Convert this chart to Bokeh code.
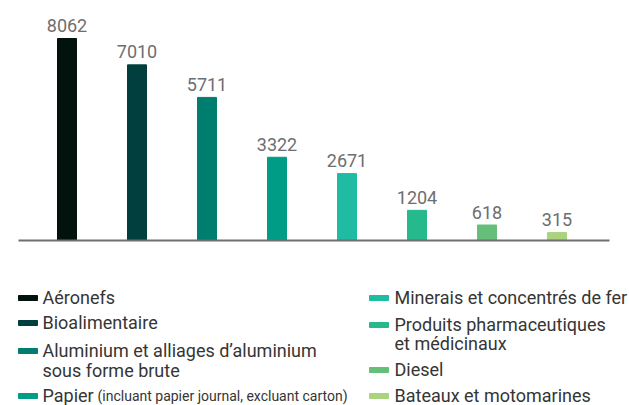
from bokeh.plotting import figure
from bokeh.models import Range1d, ColumnDataSource
from bokeh.core.properties import value
from bokeh.embed import file_html
from bokeh.resources import INLINE

# ---- data ----
categories = [
    "Aéronefs",
    "Bioalimentaire",
    "Aluminium et alliages d’aluminium sous forme brute",
    "Papier (incluant papier journal, excluant carton)",
    "Minerais et concentrés de fer",
    "Produits pharmaceutiques et médicinaux",
    "Diesel",
    "Bateaux et motomarines",
]
values = [8062, 7010, 5711, 3322, 2671, 1204, 618, 315]
value_labels = [str(v) for v in values]
colors = ["#02120c", "#013f3e", "#007d6e", "#009c85",
          "#1fbca3", "#26b98b", "#66bf78", "#aad37f"]

NUM_FONT = value("Roboto")
LEG_FONT = value("Roboto")
LABEL_GREY = "#6d6e70"
TEXT_DARK = "#353535"

# ---- geometry (page pixels; the page template has no body margin) ----
W, H = 629, 405
page_top, page_left = 0, 0
axis_y_page = 240          # baseline of bars
first_center_page = 66.5   # centre of first bar
step_px = 70
px_per_unit = 202 / max(values)

base_from_bottom = (page_top + H) - axis_y_page
base_from_top = axis_y_page - page_top
x_start = -(first_center_page - page_left) / step_px

p = figure(width=W, height=H, output_backend="svg", toolbar_location=None,
           min_border=0,
           x_range=Range1d(x_start, x_start + W / step_px),
           y_range=Range1d(-base_from_bottom / px_per_unit,
                           base_from_top / px_per_unit))
p.extra_x_ranges = {"px": Range1d(page_left, page_left + W)}
p.extra_y_ranges = {"px": Range1d(page_top + H, page_top)}
p.outline_line_color = None
p.xaxis.visible = False
p.yaxis.visible = False
p.grid.visible = False
p.background_fill_color = None
p.border_fill_color = None

x = list(range(len(values)))
src = ColumnDataSource(dict(x=x, top=values, color=colors, label=value_labels))
p.vbar(x="x", top="top", bottom=0, width=19 / step_px, color="color", source=src)
p.text(x="x", y="top", text="label", source=src, y_offset=-13,
       text_align="center", text_baseline="alphabetic",
       text_font=NUM_FONT, text_font_size="18px", text_color=LABEL_GREY)

# baseline axis line
p.segment(x0=[18], x1=[609], y0=[0], y1=[0], line_color="#6d6e70",
          line_width=2, x_range_name="px")

# ---- legend (page-pixel coordinates) ----
left_sw, left_tx = 27.5, 42
right_sw, right_tx = 378.5, 394
layout = [
    (left_sw, left_tx, [302]),
    (left_sw, left_tx, [327]),
    (left_sw, left_tx, [355, 375]),
    (left_sw, left_tx, [400]),
    (right_sw, right_tx, [302]),
    (right_sw, right_tx, [329, 348]),
    (right_sw, right_tx, [374]),
    (right_sw, right_tx, [400]),
]
line_texts = [
    ["Aéronefs"],
    ["Bioalimentaire"],
    ["Aluminium et alliages d’aluminium", "sous forme brute"],
    ["Papier"],
    ["Minerais et concentrés de fer"],
    ["Produits pharmaceutiques", "et médicinaux"],
    ["Diesel"],
    ["Bateaux et motomarines"],
]

sw_x, sw_y, sw_c = [], [], []
tx, ty, tt = [], [], []
for (sx, txx, bls), lines, c in zip(layout, line_texts, colors):
    sw_x.append(sx)
    sw_y.append(bls[0] - 4.5)
    sw_c.append(c)
    for bl, t in zip(bls, lines):
        tx.append(txx)
        ty.append(bl)
        tt.append(t)

p.rect(x=sw_x, y=sw_y, width=19, height=5, color=sw_c,
       x_range_name="px", y_range_name="px")
p.text(x=tx, y=ty, text=tt, y_offset=-5, text_font=LEG_FONT,
       text_font_size="18px", text_color=TEXT_DARK, text_align="left",
       text_baseline="alphabetic", x_range_name="px", y_range_name="px")
p.text(x=[97], y=[400], text=["(incluant papier journal, excluant carton)"],
       y_offset=-5, text_font=LEG_FONT, text_font_size="14px",
       text_color=TEXT_DARK, text_align="left", text_baseline="alphabetic",
       x_range_name="px", y_range_name="px")

open("out.html", "w").write(file_html(p, INLINE))
